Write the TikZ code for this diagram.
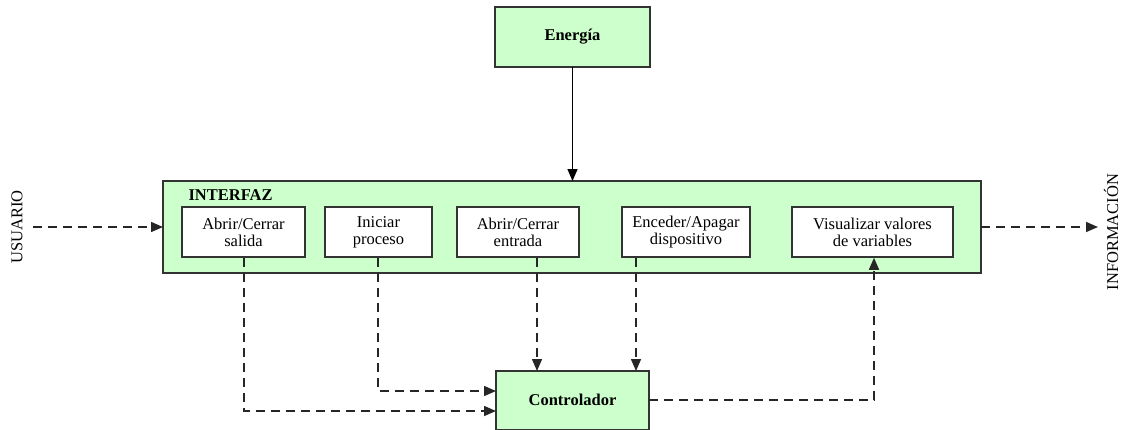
\documentclass[tikz,border=0pt]{standalone}
\usepackage{fontspec}
\setmainfont{Liberation Serif}
\usetikzlibrary{arrows.meta}
\definecolor{boxgreen}{HTML}{CCFFCC}
\definecolor{edge}{HTML}{333333}
\tikzset{
  x=1pt, y=-1pt,
  greenbox/.style={draw=edge, line width=1.5pt, fill=boxgreen},
  whitebox/.style={draw=edge, line width=1.5pt, fill=white, align=center,
    font=\fontsize{16.5}{17}\selectfont},
  boldlabel/.style={font=\fontsize{16.5}{17}\selectfont\bfseries},
  plain/.style={font=\fontsize{16.5}{17}\selectfont},
  tip/.style={-{Triangle[length=12pt,width=10pt]}},
  solidarrow/.style={tip, draw=black, line width=1.4pt},
  dasharrow/.style={tip, draw=black!85, line width=1.5pt, dash pattern=on 9pt off 6pt},
}
\begin{document}
\begin{tikzpicture}
\useasboundingbox (0,0) rectangle (1121,429);

% main blocks
\path[greenbox] (495,7) rectangle (650,67);
\node[boldlabel] (energia) at (572.5,37) {Energía};
\coordinate (energiaS) at (572.5,67);

\path[greenbox] (163,181) rectangle (981,273);
\coordinate (interfazN) at (572.5,181);
\coordinate (interfazW) at (163,227);
\coordinate (interfazE) at (981,227);
\node[boldlabel, anchor=west] (interfaz) at (185,195) {INTERFAZ};

\path[greenbox] (496,371) rectangle (649,430);
\node[boldlabel] (controlador) at (572.5,400) {Controlador};

% inner function boxes
\node[whitebox, minimum width=123pt, minimum height=50pt, inner sep=0pt] (b1) at (243.5,232) {Abrir/Cerrar\\salida};
\node[whitebox, minimum width=107pt, minimum height=50pt, inner sep=0pt] (b2) at (378.5,232) {Iniciar\\proceso};
\node[whitebox, minimum width=122pt, minimum height=50pt, inner sep=0pt] (b3) at (518,232) {Abrir/Cerrar\\entrada};
\node[whitebox, minimum width=128pt, minimum height=50pt, inner sep=0pt] (b4) at (686,232) {Enceder/Apagar\\dispositivo};
\node[whitebox, minimum width=161pt, minimum height=50pt, inner sep=0pt] (b5) at (872.5,232) {Visualizar valores\\de variables};

% side labels
\node[plain, rotate=90] (usuario) at (17,227) {USUARIO};
\node[plain, rotate=90] (info) at (1111,232) {INFORMACIÓN};
\coordinate (usuarioE) at (33,227);
\coordinate (infoW) at (1098,227);

% connectors
\draw[solidarrow] (energiaS) -- (interfazN);
\draw[dasharrow] (usuarioE) -- (interfazW);
\draw[dasharrow] (interfazE) -- (infoW);

\coordinate (cw1) at (496,411);
\coordinate (cw2) at (496,391);
\draw[dasharrow] (b1.south -| 244,0) |- (cw1);
\draw[dasharrow] (b2.south -| 378,0) |- (cw2);
\draw[dasharrow] (b3.south -| 537,0) -- (537,371);
\draw[dasharrow] (b4.south -| 636,0) -- (636,371);
\draw[dasharrow] (649,400) -| (b5.south -| 874,0);
\end{tikzpicture}
\end{document}
